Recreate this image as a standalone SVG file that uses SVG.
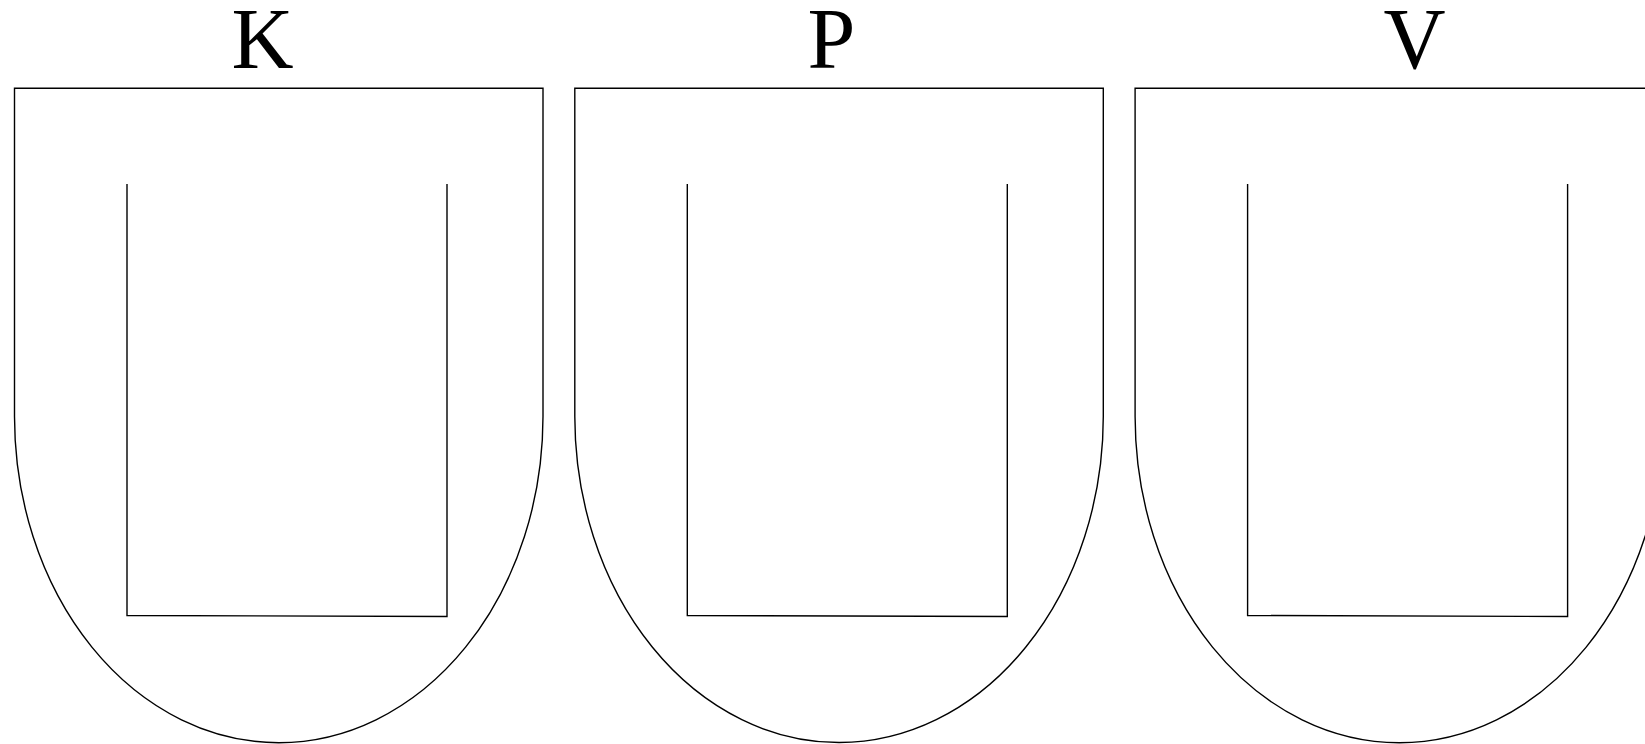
<svg xmlns="http://www.w3.org/2000/svg" width="1645" height="744" viewBox="0 0 1645 744">
<style>
.shield{fill:none;stroke:#000;stroke-width:1.4}
.inner{fill:none;stroke:#000;stroke-width:1.4}
.lbl{font-family:"Liberation Serif","Times New Roman",serif;font-size:86px;fill:#000}
</style>
<rect width="1645" height="744" fill="#fff"/>
<g id="node-K">
<path class="shield" d="M14.5,416.5 V88.3 H543 V416.5 A264.25,326.2 0 0 1 14.5,416.5 Z"/>
<path class="inner" d="M127,184 V615.5 L447,616.5 V184"/>
<text class="lbl" x="231.5" y="67.5">K</text>
</g>
<g id="node-P">
<path class="shield" d="M574.8,416.5 V88.3 H1103.3 V416.5 A264.25,326.2 0 0 1 574.8,416.5 Z"/>
<path class="inner" d="M687.3,184 V615.5 L1007.3,616.5 V184"/>
<text class="lbl" x="807.5" y="67.5">P</text>
</g>
<g id="node-V">
<path class="shield" d="M1135.1,416.5 V88.3 H1663.6 V416.5 A264.25,326.2 0 0 1 1135.1,416.5 Z"/>
<path class="inner" d="M1247.6,184 V615.5 L1567.6,616.5 V184"/>
<text class="lbl" x="1383.5" y="67.5">V</text>
</g>
<g id="connectors"></g>
</svg>
